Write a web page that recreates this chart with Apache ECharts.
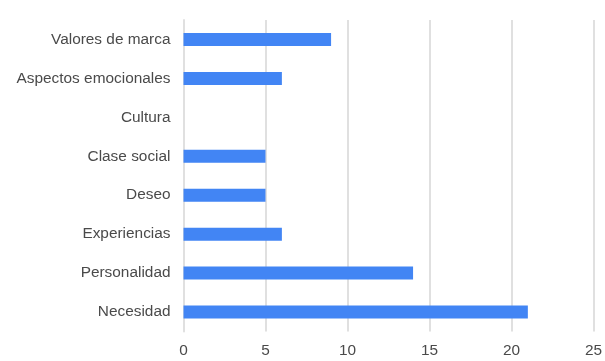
<!DOCTYPE html>
<html>
<head>
<meta charset="utf-8">
<script src="https://cdn.jsdelivr.net/npm/echarts@6/dist/echarts.min.js"></script>
<style>
  html, body { margin: 0; padding: 0; background: #fff; }
  #chart { width: 605px; height: 361px; }
</style>
</head>
<body>
<div id="chart"></div>
<script>
// Categories listed top to bottom
const categories = [
  'Valores de marca',
  'Aspectos emocionales',
  'Cultura',
  'Clase social',
  'Deseo',
  'Experiencias',
  'Personalidad',
  'Necesidad'
];
const values = [9, 6, 0, 5, 5, 6, 14, 21];
const xTicks = [0, 5, 10, 15, 20, 25];

const chart = echarts.init(document.getElementById('chart'), null, { renderer: 'canvas' });

const font = 'Arial, "Liberation Sans", Helvetica, sans-serif';

chart.setOption({
  animation: false,
  backgroundColor: '#ffffff',
  grid: { left: 183.5, right: 11.5, top: 20, bottom: 29.5, containLabel: false },
  xAxis: {
    type: 'value',
    min: xTicks[0],
    max: xTicks[xTicks.length - 1],
    interval: 5,
    axisLine: { show: false },
    axisTick: { show: false },
    splitLine: { show: true, lineStyle: { color: '#e0e0e0', width: 2 } },
    axisLabel: { color: '#4a4a4a', fontSize: 15.4, fontFamily: font, margin: 12 }
  },
  yAxis: {
    type: 'category',
    data: categories,
    inverse: true,
    axisLine: { show: true, lineStyle: { color: '#e0e0e0', width: 2 } },
    axisTick: { show: false },
    axisLabel: { color: '#4a4a4a', fontSize: 15.4, fontFamily: font, margin: 13 }
  },
  series: [{
    type: 'bar',
    data: values,
    barWidth: 13,
    itemStyle: { color: '#4285f4' }
  }]
});
</script>
</body>
</html>
